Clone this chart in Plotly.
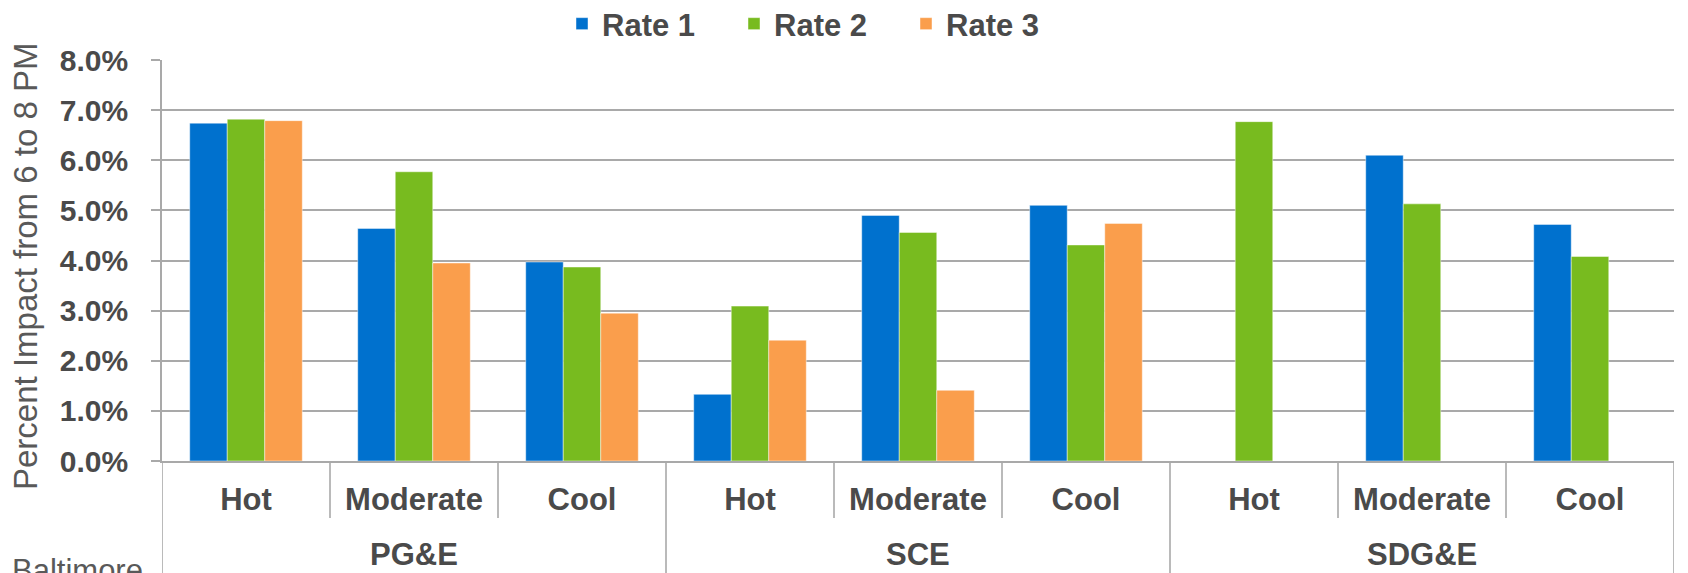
import plotly.graph_objects as go

# Percent impact on load between 6 and 8 PM, by utility and climate zone
utilities = ["PG&E", "SCE", "SDG&E"]
conditions = ["Hot", "Moderate", "Cool"]

rate_1 = [6.74, 4.64, 3.97, 1.33, 4.90, 5.10, None, 6.10, 4.72]
rate_2 = [6.82, 5.77, 3.87, 3.09, 4.56, 4.31, 6.77, 5.13, 4.08]
rate_3 = [6.79, 3.95, 2.95, 2.41, 1.41, 4.74, None, None, None]

series_names = ["Rate 1", "Rate 2", "Rate 3"]
series_colors = ["#0071CE", "#78BB1F", "#FA9E4C"]

y_ticks = [0, 1, 2, 3, 4, 5, 6, 7, 8]
y_tick_text = [f"{v:.1f}%" for v in y_ticks]

keys = [f"{u} {c}" for u in utilities for c in conditions]
labels = [c for u in utilities for c in conditions]

W, H = 1688, 573
ML, MR, MT, MB = 162, 14, 60, 112
plot_h = H - MT - MB

FONT = "Liberation Sans, Arial, sans-serif"
TEXT = "#4a4a4a"
GRID = "#a9a9a9"

fig = go.Figure()
for name, vals, col in zip(series_names, [rate_1, rate_2, rate_3], series_colors):
    fig.add_trace(go.Bar(
        x=keys, y=vals, name=name,
        marker=dict(color=col, line=dict(color="rgba(255,255,255,0.45)", width=1)),
    ))


def py(pixel_y):
    """Convert a pixel row to paper units for the vertical axis."""
    return (H - MB - pixel_y) / plot_h


def px(pixel_x):
    return (pixel_x - ML) / (W - ML - MR)


shapes = []
n = len(keys)
for i in range(n + 1):
    xb = i - 0.5
    major = i % len(conditions) == 0
    shapes.append(dict(
        type="line", xref="x", yref="paper", x0=xb, x1=xb,
        y0=0, y1=py(H + 5) if major else py(518),
        line=dict(color=GRID, width=1.6), layer="below",
    ))

annotations = []
for g, u in enumerate(utilities):
    center = g * len(conditions) + (len(conditions) - 1) / 2
    annotations.append(dict(
        x=center, xref="x", y=py(554), yref="paper", text=u, showarrow=False,
        font=dict(family=FONT, size=31, color=TEXT, weight="bold"),
        xanchor="center", yanchor="middle",
    ))

annotations.append(dict(
    x=px(25), xref="paper", y=py(266), yref="paper",
    text="Percent Impact from 6 to 8 PM", textangle=-90, showarrow=False,
    font=dict(family=FONT, size=33, color="#595959"),
    xanchor="center", yanchor="middle",
))
annotations.append(dict(
    x=px(10), xref="paper", y=py(570), yref="paper",
    text="Baltimore", showarrow=False,
    font=dict(family=FONT, size=31, color="#595959"),
    xanchor="left", yanchor="middle",
))

fig.update_layout(
    width=W, height=H,
    margin=dict(l=ML, r=MR, t=MT, b=MB, pad=0, autoexpand=False),
    paper_bgcolor="white", plot_bgcolor="white",
    barmode="group", bargap=0.33, bargroupgap=0,
    font=dict(family=FONT, color=TEXT),
    showlegend=True,
    legend=dict(
        orientation="h", x=px(562), xanchor="left", y=py(24), yanchor="middle",
        font=dict(family=FONT, size=31, color=TEXT, weight="bold"),
        entrywidth=127, entrywidthmode="pixels",
        bgcolor="rgba(0,0,0,0)", itemclick=False,
    ),
    shapes=shapes,
    annotations=annotations,
)

fig.update_xaxes(
    type="category", tickmode="array", tickvals=keys, ticktext=labels,
    showgrid=False, showline=True, linecolor=GRID, linewidth=1.6,
    ticks="", ticklabelstandoff=10,
    tickfont=dict(family=FONT, size=31, color=TEXT, weight="bold"),
    range=[-0.5, n - 0.5], fixedrange=True,
)
fig.update_yaxes(
    range=[0, 8], tickmode="array", tickvals=y_ticks, ticktext=y_tick_text,
    showgrid=True, gridcolor=GRID, gridwidth=1.6,
    showline=True, linecolor=GRID, linewidth=1.6,
    ticks="outside", ticklen=9, tickcolor=GRID, tickwidth=1.6,
    ticklabelstandoff=17,
    tickfont=dict(family=FONT, size=30, color=TEXT, weight="bold"),
    zeroline=False, fixedrange=True,
)

fig.write_html("out.html", config={"displayModeBar": False})
